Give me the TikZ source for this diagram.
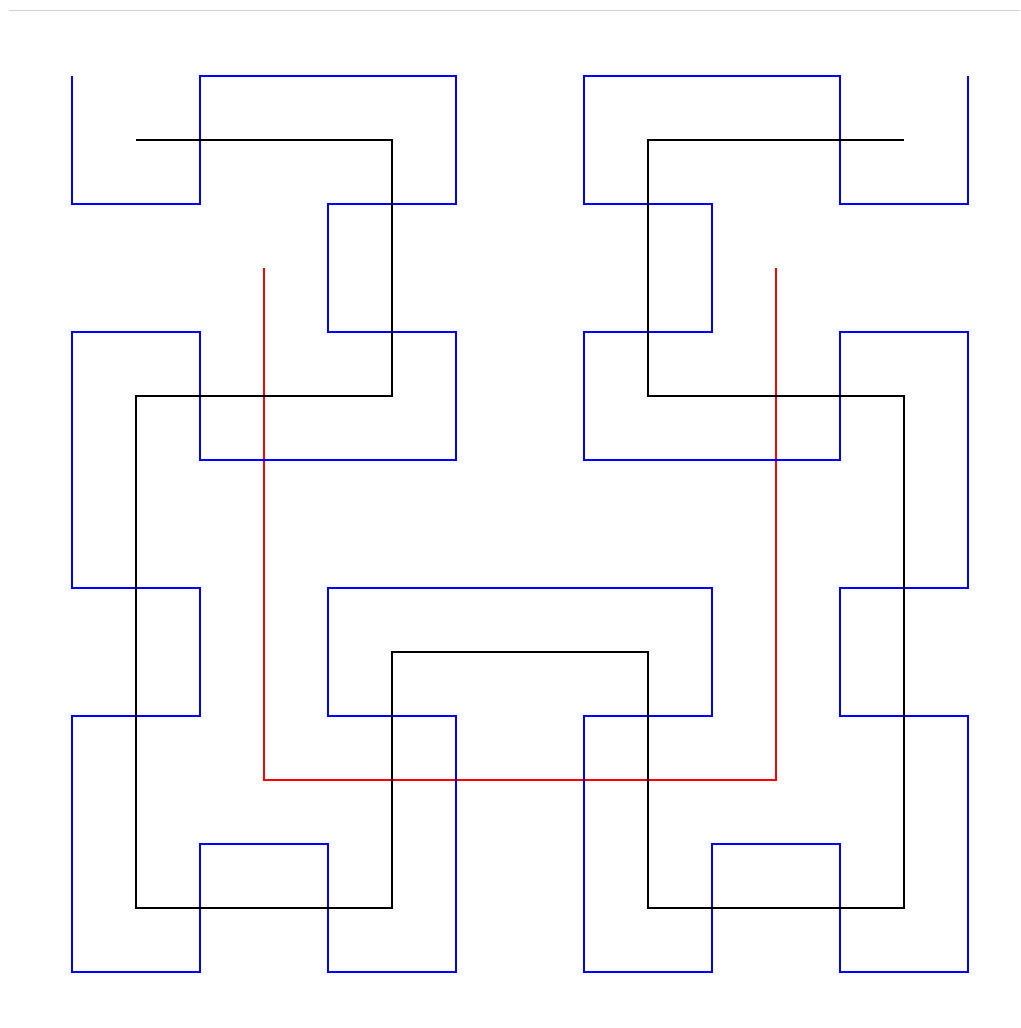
\documentclass[tikz,border=0pt]{standalone}
\tikzset{
  curve/.style={line width=1.6pt, line join=miter},
  rule/.style={line width=1pt, draw=black!18}
}
\begin{document}
\begin{tikzpicture}[x=128pt, y=-128pt]
\useasboundingbox (-8pt,12pt) rectangle (1012pt,-1016pt);
\draw[rule] (1pt,2pt) -- (1012pt,2pt);
% order 1
\draw[curve, red] plot coordinates {(2,2) (2,6) (6,6) (6,2)};
% order 3
\draw[curve, blue] plot coordinates {
  (0.5,0.5) (0.5,1.5) (1.5,1.5) (1.5,0.5) (3.5,0.5) (3.5,1.5) (2.5,1.5) (2.5,2.5)
  (3.5,2.5) (3.5,3.5) (1.5,3.5) (1.5,2.5) (0.5,2.5) (0.5,4.5) (1.5,4.5) (1.5,5.5)
  (0.5,5.5) (0.5,7.5) (1.5,7.5) (1.5,6.5) (2.5,6.5) (2.5,7.5) (3.5,7.5) (3.5,5.5)
  (2.5,5.5) (2.5,4.5) (5.5,4.5) (5.5,5.5) (4.5,5.5) (4.5,7.5) (5.5,7.5) (5.5,6.5)
  (6.5,6.5) (6.5,7.5) (7.5,7.5) (7.5,5.5) (6.5,5.5) (6.5,4.5) (7.5,4.5) (7.5,2.5)
  (6.5,2.5) (6.5,3.5) (4.5,3.5) (4.5,2.5) (5.5,2.5) (5.5,1.5) (4.5,1.5) (4.5,0.5)
  (6.5,0.5) (6.5,1.5) (7.5,1.5) (7.5,0.5)};
% order 2
\draw[curve, black] plot coordinates {(1,1) (3,1) (3,3) (1,3) (1,7) (3,7) (3,5)
  (5,5) (5,7) (7,7) (7,3) (5,3) (5,1) (7,1)};
\end{tikzpicture}
\end{document}
